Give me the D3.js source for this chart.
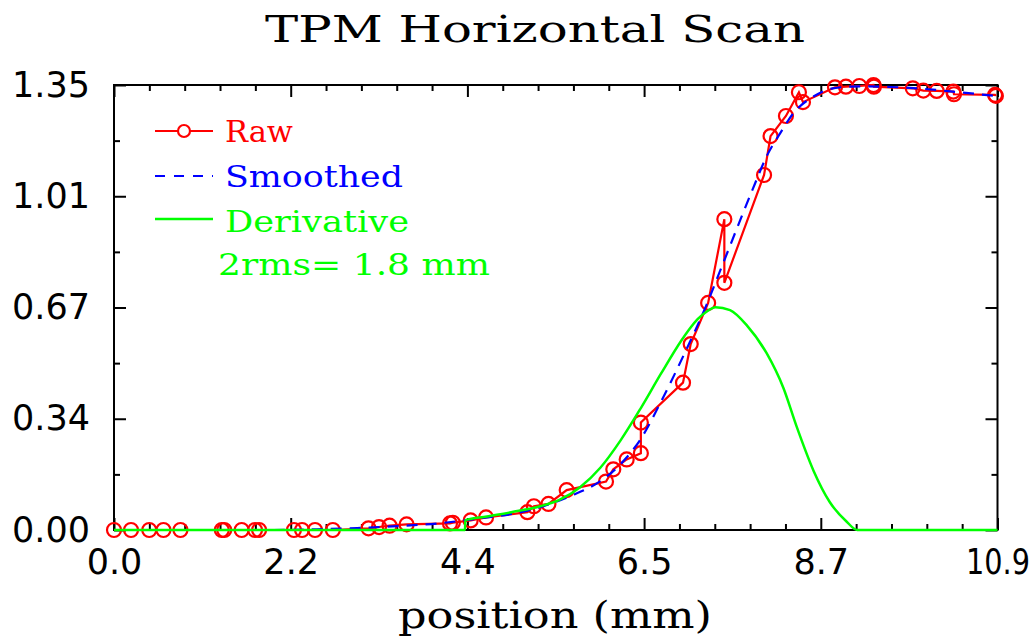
<!DOCTYPE html>
<html>
<head>
<meta charset="utf-8">
<script src="https://cdn.jsdelivr.net/npm/d3@7"></script>
<style>
  html, body { margin: 0; padding: 0; background: #fff; }
  svg { display: block; }
</style>
</head>
<body>
<svg id="chart" width="1034" height="643"></svg>
<script>
// ---- data ----
const rawX = [0.00,0.21,0.435,0.61,0.82,1.33,1.36,1.575,1.74,1.79,2.22,2.32,2.48,2.70,
  3.14,3.27,3.40,3.61,4.145,4.18,4.40,4.59,5.10,5.18,5.36,5.585,6.07,6.16,6.325,6.50,6.50,
  7.02,7.115,7.33,7.53,7.53,8.02,8.10,8.29,8.45,8.50,8.895,9.03,9.195,9.37,9.375,
  9.855,9.985,10.15,10.355,10.363,10.87,10.88];
const rawY = [0,0,0,0,0,0,0,0,0,0,0,0,0,0,
  0.005,0.009,0.013,0.017,0.020,0.022,0.029,0.038,0.054,0.072,0.079,0.121,0.147,0.184,0.214,0.233,0.326,
  0.447,0.564,0.689,0.943,0.750,1.077,1.195,1.256,1.328,1.298,1.343,1.345,1.347,1.350,1.345,
  1.340,1.333,1.332,1.330,1.322,1.320,1.317];

const smoothX = [1.97,2.5,3.0,3.5,4.0,4.5,5.0,5.3,5.63,6.0,6.25,6.49,6.75,7.02,7.31,7.5,7.75,7.91,8.05,8.22,8.38,8.63,8.87,9.2,9.6,10.0,10.35,10.9];
const smoothY = [0.0,0.002,0.006,0.012,0.020,0.035,0.053,0.072,0.103,0.148,0.200,0.273,0.390,0.526,0.683,0.800,0.955,1.052,1.133,1.204,1.264,1.315,1.340,1.346,1.344,1.338,1.330,1.316];

const derivX = [0,4.33,4.335,4.6,4.9,5.26,5.5,5.75,6.0,6.25,6.5,6.75,7.0,7.1,7.2,7.31,7.42,7.6,7.81,8.05,8.26,8.42,8.63,8.83,9.04,9.17,10.9];
const derivY = [0,0,0.030,0.041,0.054,0.072,0.092,0.130,0.189,0.272,0.370,0.475,0.575,0.610,0.640,0.662,0.676,0.667,0.620,0.537,0.430,0.315,0.180,0.085,0.025,0.0,0.0];

const xTickValues = [0, 2.18, 4.36, 6.54, 8.72, 10.9];
const xTickLabels = ["0.0","2.2","4.4","6.5","8.7","10.9"];
const yTickValues = [0, 0.3375, 0.675, 1.0125, 1.35];
const yTickLabels = ["0.00","0.34","0.67","1.01","1.35"];

const titleText = "TPM Horizontal Scan";
const xTitle = "position (mm)";
const legendItems = ["Raw", "Smoothed", "Derivative"];
const noteText = "2rms= 1.8 mm";

// ---- layout ----
const L = 114, R = 997.5, T = 85, B = 530;
const svg = d3.select("#chart");
const x = d3.scaleLinear().domain([0, 10.9]).range([L, R]);
const y = d3.scaleLinear().domain([0, 1.35]).range([B, T]);

const xMinor = d3.range(0, 26).map(i => i * 10.9 / 25).filter((v,i) => i % 5 !== 0);
const yMinor = [0.16875, 0.50625, 0.84375, 1.18125];

function styleAxis(g) {
  g.select(".domain").remove();
  g.selectAll(".tick line").attr("stroke", "#000").attr("stroke-width", 2);
}

const tickFont = "'DejaVu Sans', sans-serif";
svg.append("g").attr("transform", `translate(0,${B})`)
  .call(d3.axisBottom(x).tickValues(xTickValues).tickSize(-12).tickPadding(19)
    .tickFormat((d,i) => xTickLabels[i]))
  .call(styleAxis)
  .selectAll("text").attr("font-family", tickFont).attr("font-size", 35).attr("fill", "#000")
  .each(function(d, i) {
    // the reference font has a narrow "1"; keep the edge label inside the page
    if (xTickLabels[i].length > 3) d3.select(this)
      .attr("textLength", 64).attr("lengthAdjust", "spacingAndGlyphs");
  });
svg.append("g").attr("transform", `translate(0,${B})`)
  .call(d3.axisBottom(x).tickValues(xMinor).tickSize(-6).tickFormat(""))
  .call(styleAxis);
svg.append("g").attr("transform", `translate(0,${T})`)
  .call(d3.axisTop(x).tickValues(xTickValues).tickSize(-12).tickFormat(""))
  .call(styleAxis);
svg.append("g").attr("transform", `translate(0,${T})`)
  .call(d3.axisTop(x).tickValues(xMinor).tickSize(-6).tickFormat(""))
  .call(styleAxis);

svg.append("g").attr("transform", `translate(${L},0)`)
  .call(d3.axisLeft(y).tickValues(yTickValues).tickSize(-12).tickPadding(24)
    .tickFormat((d,i) => yTickLabels[i]))
  .call(styleAxis)
  .selectAll("text").attr("font-family", tickFont).attr("font-size", 35).attr("fill", "#000");
svg.append("g").attr("transform", `translate(${L},0)`)
  .call(d3.axisLeft(y).tickValues(yMinor).tickSize(-6).tickFormat(""))
  .call(styleAxis);
svg.append("g").attr("transform", `translate(${R},0)`)
  .call(d3.axisRight(y).tickValues(yTickValues).tickSize(-12).tickFormat(""))
  .call(styleAxis);
svg.append("g").attr("transform", `translate(${R},0)`)
  .call(d3.axisRight(y).tickValues(yMinor).tickSize(-6).tickFormat(""))
  .call(styleAxis);

// frame
svg.append("rect").attr("x", L).attr("y", T).attr("width", R - L).attr("height", B - T)
  .attr("fill", "none").attr("stroke", "#000").attr("stroke-width", 2);

// ---- series ----
const rawPts = rawX.map((v,i) => [v, rawY[i]]);
const smoothPts = smoothX.map((v,i) => [v, smoothY[i]]);
const derivPts = derivX.map((v,i) => [v, derivY[i]]);

const lineLin = d3.line().x(d => x(d[0])).y(d => y(d[1]));
const lineSmooth = d3.line().x(d => x(d[0])).y(d => y(d[1])).curve(d3.curveMonotoneX);

svg.append("path").datum(rawPts).attr("d", lineLin)
  .attr("fill", "none").attr("stroke", "#ff0000").attr("stroke-width", 2.2);
svg.append("g").selectAll("circle").data(rawPts).join("circle")
  .attr("cx", d => x(d[0])).attr("cy", d => y(d[1])).attr("r", 7)
  .attr("fill", "none").attr("stroke", "#ff0000").attr("stroke-width", 2.2);

svg.append("path").datum(smoothPts).attr("d", lineSmooth)
  .attr("fill", "none").attr("stroke", "#0000ff").attr("stroke-width", 2.2)
  .attr("stroke-dasharray", "11,8");

svg.append("path").datum(derivPts).attr("d", lineSmooth)
  .attr("fill", "none").attr("stroke", "#00ff00").attr("stroke-width", 2.5);

// ---- legend ----
const serif = "'DejaVu Serif', serif";
const lg = svg.append("g");
lg.append("line").attr("x1", 155).attr("x2", 213).attr("y1", 131).attr("y2", 131)
  .attr("stroke", "#ff0000").attr("stroke-width", 2.2);
lg.append("circle").attr("cx", 184).attr("cy", 131).attr("r", 6)
  .attr("fill", "#fff").attr("stroke", "#ff0000").attr("stroke-width", 2.2);
lg.append("line").attr("x1", 155).attr("x2", 213).attr("y1", 176).attr("y2", 176)
  .attr("stroke", "#0000ff").attr("stroke-width", 2.2).attr("stroke-dasharray", "10,9");
lg.append("line").attr("x1", 155).attr("x2", 213).attr("y1", 219).attr("y2", 219)
  .attr("stroke", "#00ff00").attr("stroke-width", 2.5);

const legendColors = ["#ff0000", "#0000ff", "#00ff00"];
const legendBase = [142, 187, 232];
const legendLen = [68, 178, 184];
legendItems.forEach((t, i) => {
  lg.append("text").attr("x", 225).attr("y", legendBase[i]).text(t)
    .attr("font-family", serif).attr("font-size", 30).attr("fill", legendColors[i])
    .attr("textLength", legendLen[i]).attr("lengthAdjust", "spacingAndGlyphs");
});
lg.append("text").attr("x", 218).attr("y", 275).text(noteText)
  .attr("font-family", serif).attr("font-size", 30).attr("fill", "#00ff00")
  .attr("textLength", 272).attr("lengthAdjust", "spacingAndGlyphs");

// ---- titles ----
svg.append("text").attr("x", 265).attr("y", 42).text(titleText)
  .attr("font-family", serif).attr("font-size", 38).attr("fill", "#000")
  .attr("textLength", 540).attr("lengthAdjust", "spacingAndGlyphs");
svg.append("text").attr("x", 398).attr("y", 628).text(xTitle)
  .attr("font-family", serif).attr("font-size", 38).attr("fill", "#000")
  .attr("textLength", 314).attr("lengthAdjust", "spacingAndGlyphs");
</script>
</body>
</html>
